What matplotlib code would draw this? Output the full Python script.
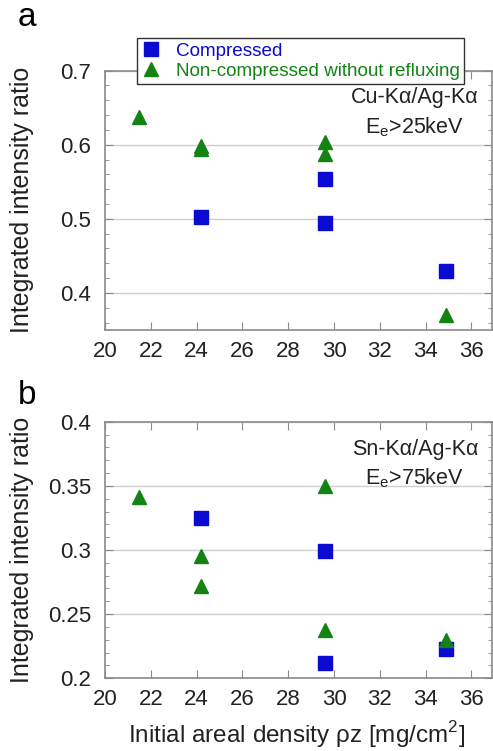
import matplotlib.pyplot as plt
from matplotlib.ticker import MultipleLocator

plt.rcParams['font.family'] = ['Liberation Sans', 'DejaVu Sans']

# panel a: Cu-Ka/Ag-Ka
a_comp_x = [24.2, 29.6, 29.6, 34.9]
a_comp_y = [0.502, 0.554, 0.494, 0.430]
a_non_x = [21.5, 24.2, 24.2, 29.6, 29.6, 34.9]
a_non_y = [0.638, 0.598, 0.594, 0.604, 0.587, 0.370]

# panel b: Sn-Ka/Ag-Ka
b_comp_x = [24.2, 29.6, 29.6, 34.9]
b_comp_y = [0.325, 0.299, 0.212, 0.223]
b_non_x = [21.5, 24.2, 24.2, 29.6, 29.6, 34.9]
b_non_y = [0.341, 0.295, 0.272, 0.350, 0.238, 0.230]

blue = '#0a0ad2'
green = '#138413'
spine = '#8a8a8a'
dark = '#222222'

fig = plt.figure(figsize=(4.93, 7.51), dpi=100)
ax1 = fig.add_axes([0.213, 0.5606, 0.785, 0.3453])
ax2 = fig.add_axes([0.213, 0.0968, 0.785, 0.3417])


def style(ax, ylim, major, minor):
    ax.set_xlim(20, 36.9)
    ax.set_ylim(*ylim)
    ax.xaxis.set_major_locator(MultipleLocator(2))
    ax.yaxis.set_major_locator(MultipleLocator(major))
    ax.yaxis.set_minor_locator(MultipleLocator(minor))
    ax.tick_params(which='both', direction='in', top=True, right=True,
                   color=spine, labelsize=16, labelcolor=dark)
    ax.tick_params(axis='x', pad=8)
    ax.tick_params(axis='y', pad=10)
    ax.tick_params(which='major', length=6)
    ax.tick_params(which='minor', length=3)
    for s in ax.spines.values():
        s.set_color(spine)
        s.set_linewidth(1.2)
    ax.grid(axis='y', which='major', color='#cfcfcf', linewidth=1)
    ax.set_axisbelow(True)
    ax.set_ylabel('Integrated intensity ratio', fontsize=18, color=dark)
    ax.yaxis.set_label_coords(-0.183, 0.5)


style(ax1, (0.35, 0.7), 0.1, 0.02)
style(ax2, (0.2, 0.4), 0.05, 0.01)
ax1.set_yticks([0.4, 0.5, 0.6, 0.7])
ax1.set_yticklabels(['0.4', '0.5', '0.6', '0.7'])
ax2.set_yticks([0.2, 0.25, 0.3, 0.35, 0.4])
ax2.set_yticklabels(['0.2', '0.25', '0.3', '0.35', '0.4'])

h1, = ax1.plot(a_comp_x, a_comp_y, 's', color=blue, markersize=9.5, linestyle='none')
h2, = ax1.plot(a_non_x, a_non_y, '^', color=green, markersize=9.5, linestyle='none')
ax2.plot(b_comp_x, b_comp_y, 's', color=blue, markersize=9.5, linestyle='none')
ax2.plot(b_non_x, b_non_y, '^', color=green, markersize=9.5, linestyle='none')

ax1.text(0.965, 0.895, 'Cu-K\u03b1/Ag-K\u03b1', transform=ax1.transAxes,
         ha='right', va='center', fontsize=15.5, color=dark)
ax1.text(0.80, 0.783, r'E$_\mathregular{e}$>25keV', transform=ax1.transAxes,
         ha='center', va='center', fontsize=15.5, color=dark)
ax2.text(0.965, 0.89, 'Sn-K\u03b1/Ag-K\u03b1', transform=ax2.transAxes,
         ha='right', va='center', fontsize=15.5, color=dark)
ax2.text(0.80, 0.78, r'E$_\mathregular{e}$>75keV', transform=ax2.transAxes,
         ha='center', va='center', fontsize=15.5, color=dark)

ax2.set_xlabel('Initial areal density \u03c1z [mg/cm$^\\mathregular{2}$]',
               fontsize=17.5, color=dark)
ax2.xaxis.set_label_coords(0.496, -0.16)

leg = fig.legend([h1, h2], ['Compressed', 'Non-compressed without refluxing'],
                 loc='upper left', bbox_to_anchor=(137 / 493, 1 - 37.7 / 751),
                 borderaxespad=0, fontsize=13.6, handlelength=1.0, handletextpad=0.8,
                 labelspacing=0.15, borderpad=0.25, fancybox=False, framealpha=1)
leg.get_frame().set_edgecolor('#333333')
leg.get_frame().set_linewidth(1.0)
for t, c in zip(leg.get_texts(), [blue, green]):
    t.set_color(c)

fig.text(18 / 493, 1 - 18 / 751, 'a', fontsize=24, ha='left', va='center')
fig.text(18 / 493, 1 - 395 / 751, 'b', fontsize=24, ha='left', va='center')

plt.savefig('out.png', dpi=100)
